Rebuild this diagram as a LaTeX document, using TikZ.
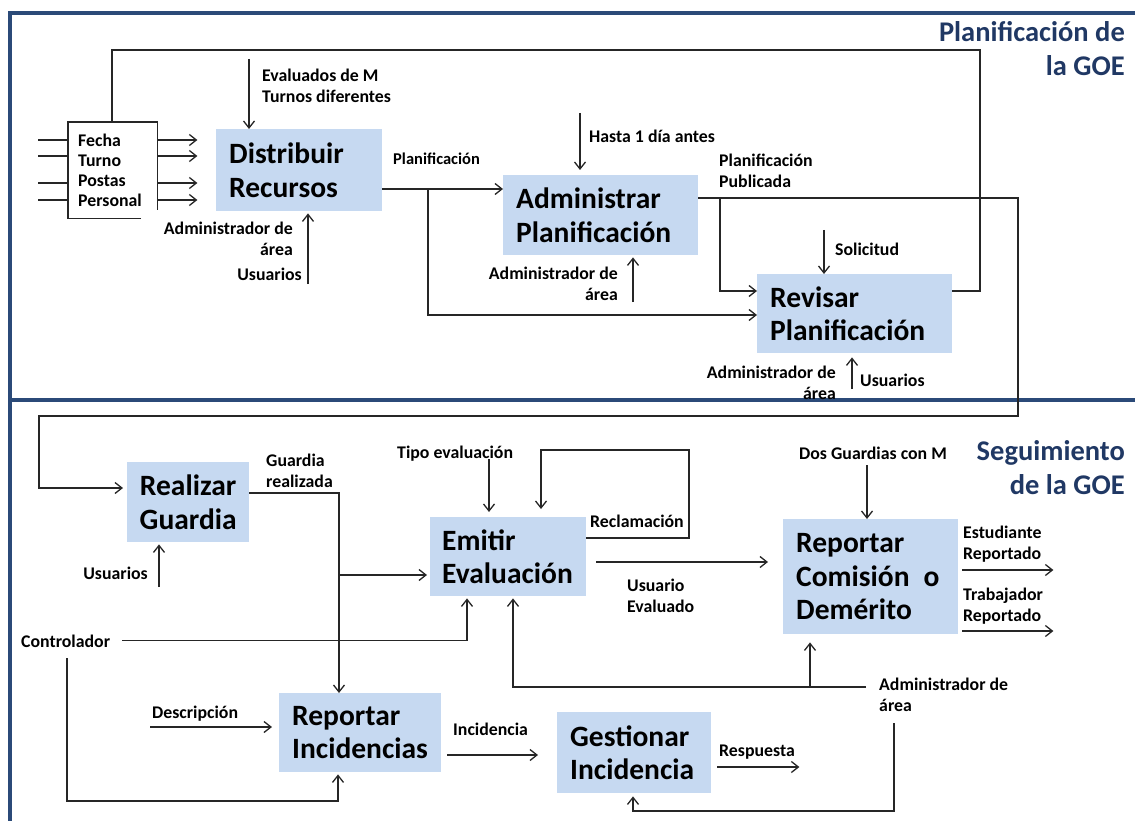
\documentclass[tikz,border=0pt]{standalone}
\usepackage{fontspec}
\setmainfont{Carlito}
\usetikzlibrary{arrows.meta,calc}
\definecolor{boxblue}{HTML}{C6D9F1}
\definecolor{framec}{HTML}{2B4A78}
\definecolor{titlec}{HTML}{203864}
\begin{document}
\begin{tikzpicture}[x=1pt,y=-1pt,
  ln/.style={line width=1.3pt, draw=black!85},
  arr/.style={ln, -{Straight Barb[length=7pt,width=11pt,line width=1.3pt]}},
  proc/.style={fill=boxblue, anchor=north west, inner xsep=13pt, inner ysep=0pt,
    align=left, font=\fontsize{29.5}{33.5}\selectfont\bfseries},
  lbl/.style={font=\fontsize{17.8}{21}\selectfont\bfseries, inner sep=0pt,
    align=left, anchor=base west},
  lblr/.style={lbl, align=right, anchor=base east},
  ttl/.style={font=\fontsize{28.5}{34}\selectfont\bfseries, text=titlec,
    inner sep=0pt, align=right, anchor=base east},
  frame/.style={line width=3.5pt, draw=framec}
]
\useasboundingbox (0,0) rectangle (1135,821);

% section frames
\draw[frame] (1135,13) -- (10,13) -- (10,821);
\draw[frame] (10,400) -- (1135,400);

% section titles (anchored at the baseline of their last line)
\node[ttl] (t1) at (1125,76) {Planificación de\\la GOE};
\node[ttl] (t2) at (1125,494) {Seguimiento\\de la GOE};

% processes
\node[proc, minimum width=166pt, minimum height=82pt, text width=140pt] (dist) at (216,129) {Distribuir\\Recursos};
\node[proc, minimum width=195pt, minimum height=80pt, text width=169pt] (admin) at (503,175) {Administrar\\Planificación};
\node[proc, minimum width=195pt, minimum height=79pt, text width=169pt] (rev) at (757,274) {Revisar\\Planificación};
\node[proc, align=center, inner xsep=6pt, minimum width=122pt, minimum height=80pt, text width=110pt] (real) at (127,462) {Realizar\\Guardia};
\node[proc, inner xsep=12pt, minimum width=156pt, minimum height=79pt, text width=132pt] (emit) at (430,517) {Emitir\\Evaluación};
\node[proc, minimum width=175pt, minimum height=115pt, text width=149pt] (comi) at (783,519) {Reportar\\Comisión\kern14pt o\\Demérito};
\node[proc, minimum width=162pt, minimum height=79pt, text width=136pt] (inc) at (279,693) {Reportar\\Incidencias};
\node[proc, minimum width=154pt, minimum height=81pt, text width=128pt] (gest) at (557,712) {Gestionar\\Incidencia};

% resource list
\node[anchor=north west, minimum width=89pt, minimum height=96pt, inner xsep=10pt, inner ysep=0pt,
  text width=69pt, align=left, font=\fontsize{17.8}{20.2}\selectfont\bfseries] (fecha) at (68,122)
  {Fecha\\Turno\\Postas\\Personal};
\draw[ln] ($(fecha.south west)+(73,0)$) -- (fecha.south west) -- (fecha.north west)
  -- (fecha.north east) -- ($(fecha.north east)+(0,88)$);
\foreach \y/\n in {140/a,156/b,183/c,200/d} {
  \draw[ln] (38,\y) coordinate (src\n) -- (src\n -| fecha.west);
  \draw[arr] (fecha.east |- src\n) -- ++(40,0);
}

% planning section connectors
\draw[ln] (rev.east |- 0,291) -- (980,291) -- (980,50) -- (112,50) -- (112,0 |- fecha.north);
\draw[arr] (249,59) coordinate (evtop) -- (evtop |- dist.north);
\node[lbl] (l1) at (262,103) {Evaluados de M\\Turnos diferentes};
\draw[arr] (308,284) coordinate (dsrc) -- ($(dsrc |- dist.south)+(0,2)$);
\node[lblr] (l2) at (293,255) {Administrador de\\área};
\node[lblr] (l3) at (302,280) {Usuarios};

\draw[arr] (dist.east |- 0,189) -- (admin.west |- 0,189);
\draw[arr] (428,189) -- (428,315) -- (rev.west |- 0,315);
\node[lbl, font=\fontsize{16.5}{20}\selectfont\bfseries] (l4) at (393,165) {Planificación};

\draw[arr] (580,113) coordinate (ht) -- ($(ht |- admin.north)+(0,-5)$);
\node[lbl] (l5) at (589,143) {Hasta 1 día antes};
\draw[arr] (633,302) coordinate (asrc) -- ($(asrc |- admin.south)+(0,2)$);
\node[lblr] (l6) at (618,300) {Administrador de\\área};

\draw[arr] (admin.east |- 0,198) -- (1018,198) -- (1018,416) -- (39,416) -- (39,488)
  -- ($(real.west |- 0,488)+(-4,0)$);
\draw[arr] (720,198) -- (720,291) -- (rev.west |- 0,291);
\node[lbl] (l7) at (719,188) {Planificación\\Publicada};

\draw[arr] (824,230) coordinate (so) -- (so |- rev.north);
\node[lbl] (l8) at (835,255) {Solicitud};
\draw[arr] (852,389) coordinate (rsrc) -- ($(rsrc |- rev.south)+(0,4)$);
\node[lblr] (l9) at (836,399) {Administrador de\\área};
\node[lbl] (l10) at (860,386) {Usuarios};

% follow-up section connectors
\draw[ln] (real.east |- 0,493) -- (339,493) -- (339,575);
\draw[arr] (339,575) -- ($(emit.west |- 0,575)+(-3,0)$);
\draw[arr] (339,575) -- (339,0 |- inc.north);
\node[lbl] (l11) at (266,487) {Guardia\\realizada};

\draw[arr] (159,587) coordinate (usr) -- ($(usr |- real.south)+(0,2)$);
\node[lblr] (l12) at (148,579) {Usuarios};

\node[lbl] (ctrl) at (21,647) {Controlador};
\draw[arr] ([xshift=12pt]ctrl.east) -| ($(467,0 |- emit.south)+(0,2)$);
\draw[arr] (67,658) -- (67,801) -- (338,801) -- ($(338,0 |- inc.south)+(0,2)$);

\draw[arr] (489,459) coordinate (tp) -- ($(tp |- emit.north)+(0,-5)$);
\node[lbl] (l13) at (397,458) {Tipo evaluación};
\draw[arr] (emit.east |- 0,538) -- (689,538) -- (689,450) -- (541,450)
  -- ($(541,0 |- emit.north)+(0,-8)$);
\node[lbl] (l14) at (590,527) {Reclamación};

\draw[arr] ($(emit.east |- 0,562)+(10,0)$) -- ($(comi.west |- 0,562)+(-15,0)$);
\node[lbl] (l15) at (627,612) {Usuario\\Evaluado};

\node[lbl] (adm) at (879,711) {Administrador de\\área};
\draw[arr] (866,687) -- (513,687) -- ($(513,0 |- emit.south)+(0,2)$);
\draw[arr] (810,687) -- ($(810,0 |- comi.south)+(0,8)$);
\draw[arr] (894,723) -- (894,811) -- (633,811) -- ($(633,0 |- gest.south)+(0,3)$);

\draw[arr] (867,465) coordinate (dg) -- (dg |- comi.north);
\node[lbl] (l16) at (799,459) {Dos Guardias con M};

\draw[arr] ($(comi.east |- 0,570)+(4,0)$) -- ++(91,0);
\draw[arr] ($(comi.east |- 0,631)+(4,0)$) -- ++(91,0);
\node[lbl] (l17) at (963,559) {Estudiante\\Reportado};
\node[lbl] (l18) at (963,621) {Trabajador\\Reportado};

\draw[arr] (150,727) -- ($(inc.west |- 0,727)+(-7,0)$);
\node[lbl] (l19) at (152,718) {Descripción};
\draw[arr] ($(inc.east |- 0,755)+(6,0)$) -- ($(gest.west |- 0,755)+(-19,0)$);
\node[lbl] (l20) at (453,735) {Incidencia};
\draw[arr] ($(gest.east |- 0,767)+(6,0)$) -- ++(82,0);
\node[lbl] (l21) at (719,756) {Respuesta};
\end{tikzpicture}
\end{document}
